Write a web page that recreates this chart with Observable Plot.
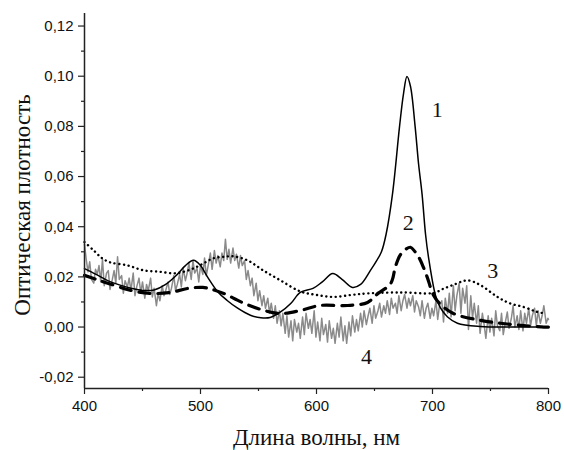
<!DOCTYPE html>
<html>
<head>
<meta charset="utf-8">
<script src="https://cdn.jsdelivr.net/npm/d3@7"></script>
<script src="https://cdn.jsdelivr.net/npm/@observablehq/plot@0.6"></script>
<style>
  html, body { margin: 0; padding: 0; background: #fff; }
  #chart { width: 564px; height: 450px; }
</style>
</head>
<body>
<div id="chart"></div>
<script>
// ---- Data ----
const xTitle = "Длина волны, нм";
const yTitle = "Оптическая плотность";
const xTicks = [400, 500, 600, 700, 800];
const xMinorTicks = [450, 550, 650, 750];
const yTicks = [-0.02, 0, 0.02, 0.04, 0.06, 0.08, 0.10, 0.12];
const yMinorTicks = [-0.01, 0.01, 0.03, 0.05, 0.07, 0.09, 0.11];
const xDomain = [400, 800];
const yDomain = [-0.0245, 0.125];

// Curve 1 (solid): [wavelength, optical density]
const curve1 = [[400,0.0233],[410,0.021],[420,0.0185],[430,0.0168],[440,0.0155],[450,0.0146],[460,0.0148],[470,0.017],[480,0.021],[487,0.0245],[494,0.0266],[500,0.0245],[506,0.020],[515,0.014],[523,0.0106],[532,0.0075],[543,0.0047],[552,0.0037],[560,0.0038],[569,0.006],[578,0.0095],[586,0.0138],[597,0.0154],[605,0.018],[614,0.0213],[622,0.019],[631,0.0158],[638,0.017],[646.5,0.0226],[652,0.0266],[656,0.030],[660,0.037],[665.5,0.053],[671.6,0.080],[675,0.093],[678,0.0999],[681,0.096],[685,0.080],[688,0.065],[691,0.053],[694,0.037],[696.5,0.028],[702.6,0.0126],[707,0.0075],[713,0.004],[721.5,0.0015],[741,0.0002],[776,0.0],[800,0.0]];

// Curve 2 (dashed)
const curve2 = [[400,0.0206],[410,0.019],[422,0.0172],[440,0.0146],[457,0.0134],[474,0.0138],[489,0.0154],[502,0.0158],[510,0.015],[520,0.0134],[536,0.0098],[552,0.007],[569,0.0054],[586,0.0066],[603,0.0086],[627,0.0086],[644,0.0098],[652,0.013],[664,0.0174],[668,0.024],[672,0.0286],[677,0.031],[681,0.0318],[685,0.030],[688,0.028],[692,0.024],[695.5,0.0198],[701,0.0126],[707,0.009],[718,0.0054],[741,0.0027],[758.6,0.0015],[776,0.0007],[796,0.0],[800,0.0]];

// Curve 3 (dotted)
const curve3 = [[400,0.0339],[408,0.0305],[415,0.0275],[422,0.0258],[437,0.0246],[451,0.0226],[465.5,0.022],[477,0.0214],[485,0.022],[494,0.0234],[503,0.0255],[511,0.0274],[520,0.028],[528,0.0282],[540.5,0.0266],[554,0.0226],[569,0.0186],[586,0.0142],[600,0.0128],[614.6,0.012],[630,0.0128],[644,0.0134],[672,0.0138],[701,0.0136],[709,0.0152],[718,0.0168],[730,0.0186],[741,0.0168],[756,0.012],[767,0.0094],[778.6,0.008],[789,0.0062],[796,0.0055]];

// Curve 4 (grey, noisy)
const curve4 = [[400,0.033],[401.5,0.027],[403,0.022],[404.5,0.026],[406,0.019],[408,0.0175],[409.5,0.023],[411,0.021],[412.5,0.0245],[414,0.018],[415.5,0.027],[417,0.0165],[419,0.0215],[420.5,0.0225],[422,0.015],[424,0.019],[425.5,0.0225],[427,0.0175],[428.5,0.028],[430,0.019],[432,0.0205],[433.5,0.0135],[435,0.0185],[437,0.016],[438.5,0.0195],[440,0.0145],[442,0.0215],[443.5,0.0125],[445,0.016],[447,0.0195],[448.5,0.0135],[450,0.018],[452,0.0115],[453.5,0.017],[455,0.0145],[457,0.0195],[458.5,0.012],[460,0.0155],[462,0.0085],[463.5,0.0135],[465,0.0105],[467,0.0165],[468.5,0.0125],[470,0.0145],[472,0.018],[473.5,0.013],[475,0.0155],[477,0.0205],[478.5,0.0145],[480,0.017],[482,0.021],[483.5,0.016],[485,0.0235],[487,0.0185],[488.5,0.0215],[490,0.0255],[492,0.019],[493.5,0.0265],[495,0.0215],[497,0.0235],[498.5,0.018],[500,0.0245],[502,0.021],[503.5,0.0275],[505,0.0205],[507,0.0255],[508.5,0.0295],[510,0.023],[512,0.0305],[513.5,0.0255],[515,0.0285],[517,0.024],[518.5,0.0295],[520,0.0265],[521.5,0.035],[523,0.027],[524.5,0.031],[526,0.0255],[528,0.0315],[529.5,0.0265],[531,0.029],[533,0.0235],[534.5,0.0285],[536,0.0245],[538,0.0265],[539.5,0.019],[541,0.0225],[543,0.0165],[544.5,0.0195],[546,0.0125],[548,0.0175],[549.5,0.0105],[551,0.0145],[553,0.0085],[554.5,0.0125],[556,0.0075],[558,0.0115],[559.5,0.0055],[561,0.0095],[563,0.0035],[564.5,0.0085],[566,0.0015],[568,0.0065],[569.5,0.0005],[571,0.0055],[573,-0.0025],[574.5,0.0045],[576,-0.004],[578,0.0025],[579.5,-0.0055],[581,0.003],[583,-0.002],[584.5,0.0015],[586,-0.0045],[588,0.004],[589.5,-0.003],[591,0.0055],[593,-0.0005],[594.5,0.003],[596,-0.0025],[598,0.0065],[599.5,-0.004],[601,0.002],[603,-0.0055],[604.5,0.0035],[606,-0.003],[608,0.001],[609.5,-0.006],[611,0.0025],[613,-0.0045],[614.5,-0.0005],[616,-0.0065],[618,0.0015],[619.5,-0.004],[621,0.004],[623,-0.0055],[624.5,0.0005],[626,-0.0065],[628,0.002],[629.5,-0.0035],[631,0.0045],[633,-0.002],[634.5,0.003],[636,-0.0015],[638,0.0055],[639.5,0.0],[641,0.0065],[643,0.001],[644.5,0.0045],[646,0.0075],[648,0.0015],[649.5,0.0085],[651,0.0035],[653,0.0065],[654.5,0.0095],[656,0.004],[658,0.0085],[659.5,0.0055],[661,0.0105],[663,0.005],[664.5,0.0115],[666,0.0075],[668,0.0095],[669.5,0.0055],[671,0.0125],[673,0.0065],[674.5,0.0105],[676,0.013],[678,0.0075],[679.5,0.0115],[681,0.0085],[683,0.0125],[684.5,0.006],[686,0.0105],[688,0.008],[689.5,0.0045],[691,0.0105],[693,0.0035],[694.5,0.0075],[696,0.0095],[698,0.0035],[699.5,0.0075],[701,0.0045],[703,0.0105],[704.5,0.003],[706,0.0085],[708,0.0105],[709.5,0.002],[711,0.0115],[713,0.0055],[714.5,0.0135],[716,0.004],[718,0.0165],[719.5,0.0065],[721,0.0125],[723,0.0175],[724.5,0.0055],[726,0.0155],[728,0.0095],[729.5,0.0165],[731,-0.001],[733,0.0125],[734.5,0.0035],[736,0.0095],[738,0.0015],[739.5,0.0085],[741,-0.0025],[743,0.0055],[744.5,0.001],[746,-0.0045],[748,0.0045],[749.5,-0.002],[751,0.0035],[753,-0.0035],[754.5,0.0065],[756,0.0005],[758,-0.0015],[759.5,0.0055],[761,-0.003],[763,0.0025],[764.5,0.006],[766,-0.0005],[768,0.0035],[769.5,0.0085],[771,0.0],[773,0.0045],[774.5,-0.001],[776,0.0065],[778,-0.0015],[779.5,0.0055],[781,0.0015],[783,0.0075],[784.5,0.0005],[786,0.0045],[788,0.0075],[789.5,0.0005],[791,0.0065],[793,0.0015],[794.5,0.0045],[796,0.0085],[798,0.0015],[799.5,0.0035],[800,0.003]];

// Curve number labels
const labelText = ["1", "2", "3", "4"];
const labelX = [704, 679, 752, 643];
const labelY = [0.0864, 0.0413, 0.0222, -0.0121];

// ---- Build ----
const toRows = pairs => pairs.map(([x, y]) => ({x, y}));
const s1 = toRows(curve1), s2 = toRows(curve2), s3 = toRows(curve3), s4 = toRows(curve4);
const labels = labelText.map((t, i) => ({t, x: labelX[i], y: labelY[i]}));

const sans = "'Liberation Sans', Arial, sans-serif";
const serif = "'Liberation Serif', 'Times New Roman', serif";

const chart = Plot.plot({
  width: 564,
  height: 450,
  marginLeft: 84,
  marginRight: 16,
  marginTop: 13,
  marginBottom: 62,
  style: {background: "#fff", overflow: "visible"},
  x: {domain: xDomain},
  y: {domain: yDomain},
  marks: [
    Plot.line(s4, {x: "x", y: "y", stroke: "#8a8a8a", strokeWidth: 1.5}),
    Plot.line(s3, {x: "x", y: "y", curve: "catmull-rom", stroke: "#000", strokeWidth: 2.4, strokeDasharray: "0.1,4.6", strokeLinecap: "round"}),
    Plot.line(s2, {x: "x", y: "y", curve: "catmull-rom", stroke: "#000", strokeWidth: 3.2, strokeDasharray: "11,8"}),
    Plot.line(s1, {x: "x", y: "y", curve: "catmull-rom", stroke: "#000", strokeWidth: 1.5}),
    Plot.axisX({ticks: xTicks, tickSize: 6, tickPadding: 6, tickFormat: d => String(d), fontSize: 15, fontFamily: sans, label: null, stroke: "#222", strokeWidth: 1.2, color: "#111"}),
    Plot.axisX({ticks: xMinorTicks, tickSize: 3, tickFormat: () => "", label: null, stroke: "#222", strokeWidth: 1.2}),
    Plot.axisY({ticks: yTicks, tickSize: 6, tickPadding: 5, tickFormat: d => d.toFixed(2).replace(".", ","), fontSize: 15, fontFamily: sans, label: null, stroke: "#222", strokeWidth: 1.2, color: "#111"}),
    Plot.axisY({ticks: yMinorTicks, tickSize: 3, tickFormat: () => "", label: null, stroke: "#222", strokeWidth: 1.2}),
    Plot.ruleX([xDomain[0]], {stroke: "#222", strokeWidth: 1.5}),
    Plot.ruleY([yDomain[0]], {stroke: "#222", strokeWidth: 1.5}),
    Plot.text(labels, {x: "x", y: "y", text: "t", fontSize: 22, fontFamily: serif, fill: "#111"}),
    Plot.text([xTitle], {frameAnchor: "bottom", textAnchor: "middle", lineAnchor: "middle", dy: 49, fontSize: 23, fontFamily: serif, fill: "#111"}),
    Plot.text([yTitle], {frameAnchor: "left", textAnchor: "middle", lineAnchor: "middle", rotate: -90, dx: -62, dy: 4, fontSize: 23, fontFamily: serif, fill: "#111"})
  ]
});
document.getElementById("chart").appendChild(chart);
</script>
</body>
</html>
